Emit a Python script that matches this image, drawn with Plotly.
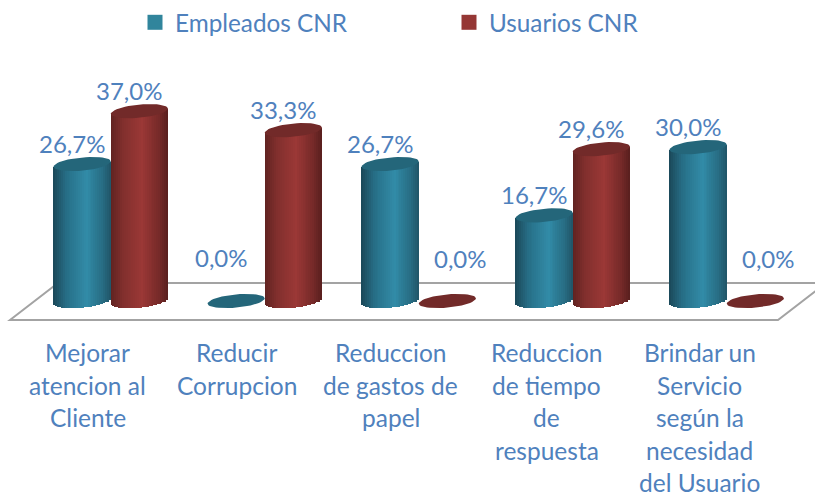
import math
import plotly.graph_objects as go

# ---- data ----
categories = [
    "Mejorar\natencion al\nCliente",
    "Reducir\nCorrupcion",
    "Reduccion\nde gastos de\npapel",
    "Reduccion\nde tiempo\nde\nrespuesta",
    "Brindar un\nServicio\nsegún la\nnecesidad\ndel Usuario",
]
empleados = [26.7, 0.0, 26.7, 16.7, 30.0]
usuarios = [37.0, 33.3, 0.0, 29.6, 0.0]

# ---- style / geometry ----
W, H = 815, 493
PX_X = 154.0            # pixels per category
PX_Y = 5.13             # pixels per percent
X0, Y0 = 110.75, 301.0  # pixel position of category 0 / value 0
HALF_GAP = 28.6 / PX_X  # bar centre offset
RX = 28.6 / PX_X        # cylinder x radius
RY = 6.6 / PX_Y         # cylinder y radius
TILT = 2.6 / PX_Y       # ellipse tilt
N = 30
FONT = "Lato"
TXT = "#4f81bd"
LABEL_SHIFT = [-23, -28, -28, -26, -27]


def mix(stops, t):
    for (t0, c0), (t1, c1) in zip(stops, stops[1:]):
        if t <= t1:
            f = (t - t0) / (t1 - t0)
            return "rgb(%d,%d,%d)" % tuple(a + (b - a) * f for a, b in zip(c0, c1))
    return "rgb(%d,%d,%d)" % stops[-1][1]


series = [
    dict(name="Empleados CNR", vals=empleados, off=-HALF_GAP, swatch="#31859c", top="#24667a",
         stops=[(0, (27, 72, 88)), (0.22, (39, 110, 134)), (0.58, (50, 140, 168)), (0.85, (40, 110, 133)), (1, (33, 85, 103))]),
    dict(name="Usuarios CNR", vals=usuarios, off=HALF_GAP, swatch="#953735", top="#722a29",
         stops=[(0, (95, 34, 33)), (0.22, (130, 48, 46)), (0.55, (155, 56, 54)), (0.85, (118, 42, 41)), (1, (88, 31, 30))]),
]

fig = go.Figure()

for s in series:
    for i in range(N):
        t = (i + 0.5) / N
        u = 2 * t - 1
        low = -RY * math.sqrt(1 - u * u) + TILT * u
        xs, ys, bases = [], [], []
        for k, v in enumerate(s["vals"]):
            if v > 0:
                xs.append(k + s["off"] + u * RX)
                bases.append(low)
                ys.append(v + TILT * u - low)
        fig.add_trace(go.Bar(x=xs, y=ys, base=bases, width=2 * RX / N * 1.25,
                             marker=dict(color=mix(s["stops"], t), line=dict(width=0)),
                             showlegend=False, hoverinfo="skip"))

theta = [2 * math.pi * j / 48 for j in range(49)]
for s in series:
    ex, ey = [], []
    for k, v in enumerate(s["vals"]):
        for th in theta:
            c = math.cos(th)
            ex.append(k + s["off"] + RX * c)
            ey.append(v + RY * math.sin(th) + TILT * c)
        ex.append(None)
        ey.append(None)
    fig.add_trace(go.Scatter(x=ex, y=ey, mode="lines", fill="toself", fillcolor=s["top"],
                             line=dict(width=0, color=s["top"]), showlegend=False, hoverinfo="skip"))

for s in series:
    fig.add_trace(go.Scatter(x=[None], y=[None], mode="markers", name=s["name"],
                             marker=dict(symbol="square", size=15, color=s["swatch"])))

# floor
fx = [(p - X0) / PX_X for p in (10, 58, 826, 778)]
fy = [(Y0 - p) / PX_Y for p in (320, 283, 283, 320)]
fig.add_shape(type="path", layer="below", xref="x", yref="y",
              path="M %f,%f L %f,%f L %f,%f L %f,%f Z" % (fx[0], fy[0], fx[1], fy[1], fx[2], fy[2], fx[3], fy[3]),
              fillcolor="white", line=dict(color="#a3a3a3", width=2))

# value labels
for s in series:
    for k, v in enumerate(s["vals"]):
        if v > 0:
            dx, dy = -10, 21
        else:
            dx, dy = (-15, 44) if s["off"] < 0 else (13, 42.5)
        fig.add_annotation(x=k + s["off"], y=v, xshift=dx, yshift=dy, showarrow=False,
                           text=("%.1f%%" % v).replace(".", ","),
                           font=dict(family=FONT, size=24, color=TXT))

# category labels
for k, c in enumerate(categories):
    for j, line in enumerate(c.split("\n")):
        fig.add_annotation(x=k, y=(Y0 - (352.5 + 32.6 * j)) / PX_Y, xshift=LABEL_SHIFT[k], showarrow=False,
                           text=line, font=dict(family=FONT, size=24.5, color=TXT))

fig.update_layout(
    width=W, height=H, margin=dict(l=0, r=0, t=0, b=0),
    paper_bgcolor="white", plot_bgcolor="white", barmode="overlay", bargap=0,
    font=dict(family=FONT, size=24, color=TXT),
    xaxis=dict(range=[(0 - X0) / PX_X, (W - X0) / PX_X], visible=False, fixedrange=True),
    yaxis=dict(range=[(Y0 - H) / PX_Y, Y0 / PX_Y], visible=False, fixedrange=True),
    legend=dict(orientation="h", x=135 / W, y=1.0, yanchor="top", xanchor="left",
                entrywidth=269, entrywidthmode="pixels", bgcolor="rgba(0,0,0,0)",
                font=dict(family=FONT, size=24.3, color=TXT)),
)
fig.write_html("out.html", config={"displayModeBar": False},
               post_script="document.body.style.margin='0';document.body.style.overflow='hidden';")
